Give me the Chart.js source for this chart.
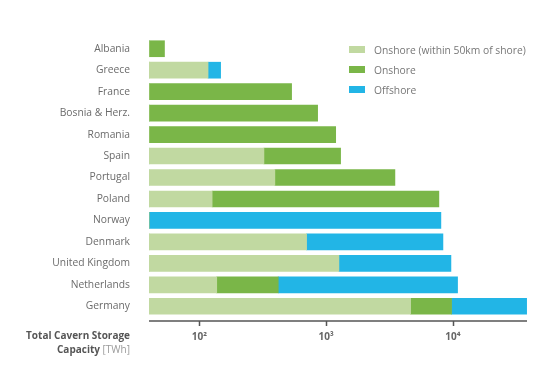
<!DOCTYPE html>
<html>
<head>
<meta charset="utf-8">
<script src="https://cdn.jsdelivr.net/npm/chart.js@4"></script>
<style>
  body { margin: 0; background: #fff; font-family: "Open Sans", sans-serif; }
  #wrap { position: relative; width: 543px; height: 366px; }
  .leg { position: absolute; left: 349px; font-size: 10.3px; color: #777; white-space: nowrap; }
  .leg span { display: inline-block; width: 16px; height: 7px; margin-right: 9px; vertical-align: 1px; }
  #axTitle { position: absolute; right: 413px; top: 328px; text-align: right; font-size: 10px; line-height: 14px; font-weight: bold; color: #555; white-space: nowrap; }
  #axTitle i { font-style: normal; font-weight: normal; color: #9a9a9a; }
</style>
</head>
<body>
<div id="wrap">
  <canvas id="c" width="543" height="366"></canvas>
  <div class="leg" style="top:43px"><span style="background:#c1d9a1"></span>Onshore (within 50km of shore)</div>
  <div class="leg" style="top:63px"><span style="background:#7ab648"></span>Onshore</div>
  <div class="leg" style="top:83px"><span style="background:#22b5e6"></span>Offshore</div>
  <div id="axTitle">Total Cavern Storage<br>Capacity <i>[TWh]</i></div>
</div>
<script>
const countries = ["Albania", "Greece", "France", "Bosnia & Herz.", "Romania", "Spain", "Portugal",
                   "Poland", "Norway", "Denmark", "United Kingdom", "Netherlands", "Germany"];
// TWh per category (stacked on a log axis)
const nearShore = [0, 117, 0, 0, 0, 323, 394, 126, 0, 701, 1262, 137, 4645];
const onshore   = [53, 0, 534, 857, 1190, 978, 3097, 7636, 0, 0, 0, 282, 5130];
const offshore  = [0, 30, 0, 0, 0, 0, 0, 0, 8050, 7654, 8400, 10480, 28470];
const tickValues = [100, 1000, 10000];
const tickLabels = ["10²", "10³", "10⁴"];

// axis line sits a few px below the last bar, like the original
const axisLine = {
  id: 'axisLine',
  afterDraw(chart) {
    const c = chart.ctx, xs = chart.scales.x, a = chart.chartArea;
    const y = a.bottom + 4;
    c.save();
    c.strokeStyle = '#555';
    c.lineWidth = 1.5;
    c.beginPath();
    c.moveTo(a.left, y);
    c.lineTo(a.right, y);
    tickValues.forEach(v => {
      const px = Math.round(xs.getPixelForValue(v)) + 0.5;
      c.moveTo(px, y);
      c.lineTo(px, y + 5);
    });
    c.stroke();
    c.restore();
  }
};

const ctx = document.getElementById('c').getContext('2d');
new Chart(ctx, {
  type: 'bar',
  data: {
    labels: countries,
    datasets: [
      { label: "Onshore (within 50km of shore)", data: nearShore, backgroundColor: '#c1d9a1' },
      { label: "Onshore", data: onshore, backgroundColor: '#7ab648' },
      { label: "Offshore", data: offshore, backgroundColor: '#22b5e6' }
    ]
  },
  options: {
    indexAxis: 'y',
    responsive: false,
    animation: false,
    barThickness: 16,
    layout: { padding: { left: 0, top: 38, right: 16, bottom: 0 } },
    plugins: { legend: { display: false }, tooltip: { enabled: false } },
    scales: {
      y: {
        stacked: true,
        grid: { display: false, drawTicks: false },
        border: { display: false },
        ticks: { padding: 19, color: '#6b6b6b', font: { family: 'Open Sans', size: 10.3 } },
        afterFit: function(s) { s.width = 149; }
      },
      x: {
        type: 'logarithmic',
        stacked: true,
        min: 40,
        max: 38500,
        grid: { display: false, drawTicks: false },
        border: { display: false },
        afterBuildTicks: function(s) { s.ticks = tickValues.map(v => ({ value: v })); },
        ticks: {
          padding: 14,
          color: '#666',
          font: { family: 'Open Sans', size: 10, weight: 'bold' },
          callback: function(v) { return tickLabels[tickValues.indexOf(v)] || ''; }
        },
        afterFit: function(s) { s.height = 49; }
      }
    }
  },
  plugins: [axisLine]
});
</script>
</body>
</html>
